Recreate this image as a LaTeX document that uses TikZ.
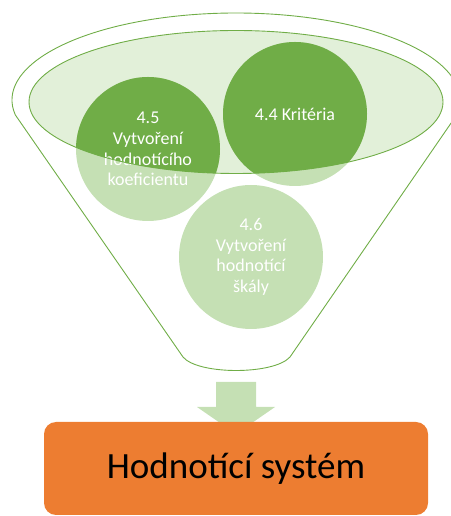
\documentclass[tikz,border=0pt]{standalone}
\usepackage{fontspec}
\setmainfont{Carlito}
\definecolor{dkgreen}{HTML}{70AD47}
\definecolor{ltgreen}{HTML}{C5E0B4}
\definecolor{rimfill}{HTML}{E2F0D9}
\definecolor{boxorange}{HTML}{ED7D31}
\tikzset{
  ball/.style={circle, minimum size=144pt, inner sep=0pt, fill=ltgreen},
  balltext/.style={text=white, align=center, font=\fontsize{18}{20.7}\selectfont},
  funnelline/.style={draw=dkgreen, line width=0.9pt},
}
\begin{document}
\begin{tikzpicture}[x=1pt,y=1pt]
\useasboundingbox (0,0) rectangle (450,516);
% funnel outline
\draw[funnelline] (236,416) ++(189.9:224 and 87) coordinate (fl)
  arc[start angle=189.9, end angle=-9.9, x radius=224, y radius=87] coordinate (fr)
  -- (290,159) coordinate (br)
  .. controls (274,141) and (198,141) .. (183,159) coordinate (bl)
  -- cycle;
% rim
\fill[rimfill] (236,414) ellipse[x radius=207, y radius=71.5];
% balls (light)
\node[ball] (c45) at (148,367) {};
\node[ball] (c44) at (295,402) {};
\node[ball] (c46) at (251,259) {};
% balls inside rim (dark)
\begin{scope}
  \clip (236,414) ellipse[x radius=207, y radius=71.5];
  \fill[dkgreen] (c45) circle[radius=72];
  \fill[dkgreen] (c44) circle[radius=72];
\end{scope}
% texts
\node[balltext] at (c45) {4.5\\Vytvoření\\hodnotícího\\koeficientu};
\node[balltext] at (c44) {4.4 Kritéria};
\node[balltext] at (c46) {4.6\\Vytvoření\\hodnotící\\škály};
% rim border
\draw[funnelline] (236,414) ellipse[x radius=207, y radius=71.5];
% arrow
\fill[ltgreen] (216,134) -- (256,134) -- (256,109) -- (275,109) -- (236,82) -- (197,109) -- (216,109) -- cycle;
% result box
\node[draw=none, fill=boxorange, rounded corners=12pt, minimum width=384pt, minimum height=93pt,
      inner sep=0pt, font=\fontsize{37}{44}\selectfont] (box) at (236,47.5) {Hodnotící systém};
\end{tikzpicture}
\end{document}
